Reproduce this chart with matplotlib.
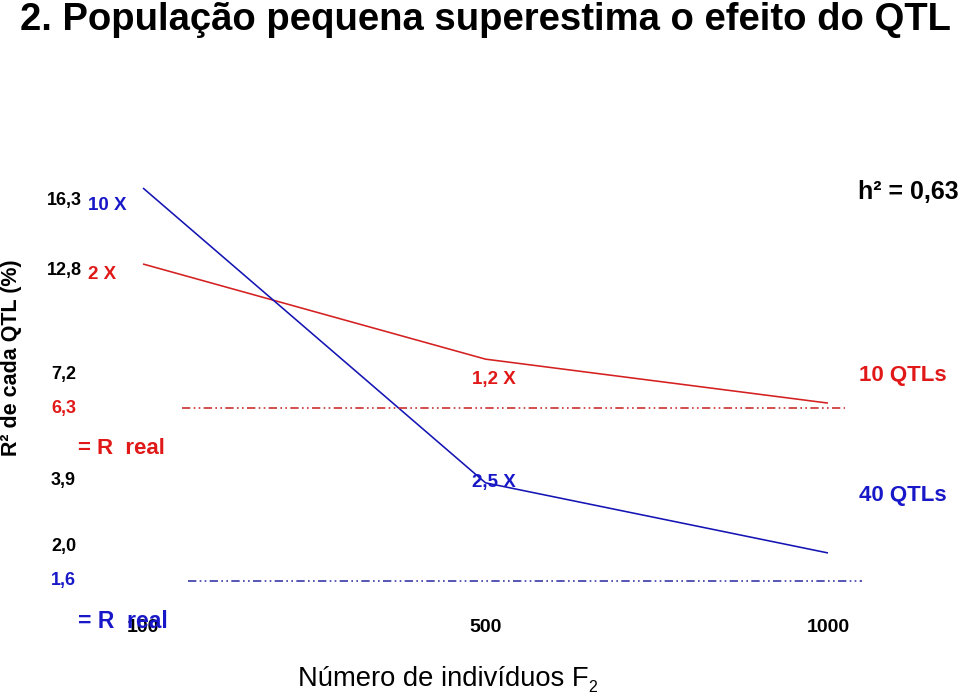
import numpy as np
import matplotlib
matplotlib.use("Agg")
import matplotlib.pyplot as plt
from matplotlib import transforms

# ---------------- data ----------------
categories = ["100", "500", "1000"]            # population size F2
r2_10qtl = [13.1, 8.0, 6.43]                    # estimated R2 (%) - 10 QTLs
r2_40qtl = [16.9, 3.82, 1.93]                   # estimated R2 (%) - 40 QTLs
real_10qtl = 6.3
real_40qtl = 1.6
ytick_vals = [16.3, 12.8, 7.2, 6.3, 3.9, 2.0, 1.6]
ytick_labels = ["16,3", "12,8", "7,2", "6,3", "3,9", "2,0", "1,6"]
ytick_colors = ["black", "black", "black", "red10", "black", "black", "blue40"]
ratio_10 = ["2 X", "1,2 X"]
ratio_40 = ["10 X", "2,5 X"]

# ---------------- style ----------------
RED = "#d42020"
BLUE = "#1414b4"
RED_TXT = "#e01818"
BLUE_TXT = "#1818c8"
cmap = {"black": "black", "red10": RED_TXT, "blue40": BLUE_TXT}
FONT = ["Liberation Sans", "DejaVu Sans"]
plt.rcParams["font.family"] = FONT

W, H = 960, 694
fig = plt.figure(figsize=(W / 100, H / 100), dpi=100)
fig.patch.set_facecolor("white")
ax = fig.add_axes([0, 0, 1, 1])
ax.axis("off")

# non-uniform value axis as drawn on the slide (anchored on the label positions)
anch_v = np.array([0.27, 1.6, 2.0, 3.9, 6.3, 7.2, 12.8, 16.3, 26.3])
anch_p = np.array([694, 581, 547, 480, 408, 374, 270, 200, 0], dtype=float)

def fwd(v):
    return -np.interp(v, anch_v, anch_p)

def inv(f):
    return np.interp(-np.asarray(f), anch_p[::-1], anch_v[::-1])

ax.set_yscale("function", functions=(fwd, inv))
ax.set_ylim(0.27, 26.3)
x0_px, step_px = 143.0, 342.5
ax.set_xlim(-x0_px / step_px, (W - x0_px) / step_px)

xs = np.arange(len(categories))
ax.plot(xs, r2_10qtl, color=RED, lw=1.15, solid_capstyle="butt")
ax.plot(xs, r2_40qtl, color=BLUE, lw=1.15, solid_capstyle="butt")

dash = (0, (5, 2, 1, 2, 1, 2))
ax.hlines(real_10qtl, (182 - x0_px) / step_px, (845 - x0_px) / step_px,
          color="#cc3030", lw=1.2, linestyles=[dash])
ax.hlines(real_40qtl, (188 - x0_px) / step_px, (862 - x0_px) / step_px,
          color="#3838a8", lw=1.2, linestyles=[dash])

def fx(x):
    return x / W

def fy(y):
    return 1 - y / H

# y "tick" labels
bt = transforms.blended_transform_factory(fig.transFigure, ax.transData)
for v, lab, c in zip(ytick_vals, ytick_labels, ytick_colors):
    xl = 47 if len(lab) == 4 else 51
    ax.text(fx(xl), v, lab, transform=bt, ha="left", va="center",
            fontsize=13, fontweight="bold", color=cmap[c])

# x labels
bx = transforms.blended_transform_factory(ax.transData, fig.transFigure)
for i, lab in enumerate(categories):
    ax.text(i, fy(627), lab, transform=bx, ha="center", va="center",
            fontsize=14, fontweight="bold", color="black")

# annotations
fig.text(fx(88), fy(205), ratio_40[0], ha="left", va="center", fontsize=13.5,
         fontweight="bold", color=BLUE_TXT)
fig.text(fx(88), fy(275), ratio_10[0], ha="left", va="center", fontsize=13.5,
         fontweight="bold", color=RED_TXT)
fig.text(fx(472), fy(380), ratio_10[1], ha="left", va="center", fontsize=13.5,
         fontweight="bold", color=RED_TXT)
fig.text(fx(472), fy(483), ratio_40[1], ha="left", va="center", fontsize=13.5,
         fontweight="bold", color=BLUE_TXT)
fig.text(fx(78), fy(449), "= R  real", ha="left", va="center", fontsize=16,
         fontweight="bold", color=RED_TXT)
fig.text(fx(78), fy(621), "= R  real", ha="left", va="center", fontsize=16.5,
         fontweight="bold", color=BLUE_TXT)
fig.text(fx(859), fy(375), "10 QTLs", ha="left", va="center", fontsize=16,
         fontweight="bold", color=RED_TXT)
fig.text(fx(859), fy(496), "40 QTLs", ha="left", va="center", fontsize=16,
         fontweight="bold", color=BLUE_TXT)
fig.text(fx(858), fy(192), "h\u00b2 = 0,63", ha="left", va="center", fontsize=18,
         fontweight="bold", color="black")

# title
fig.text(fx(20), fy(30), "2. População pequena superestima o efeito do QTL",
         ha="left", va="baseline", fontsize=27.5, fontweight="bold", color="black")

# axis titles
fig.text(fx(12), fy(358), "R\u00b2 de cada QTL (%)", rotation=90, ha="center",
         va="center", fontsize=15.5, fontweight="bold", color="black")
fig.text(fx(298), fy(686), "Número de indivíduos F", ha="left", va="baseline",
         fontsize=19.7, color="black")
fig.text(fx(588), fy(692), "2", ha="left", va="baseline", fontsize=11.5,
         color="black")

fig.savefig("out.png", dpi=100, facecolor="white")
